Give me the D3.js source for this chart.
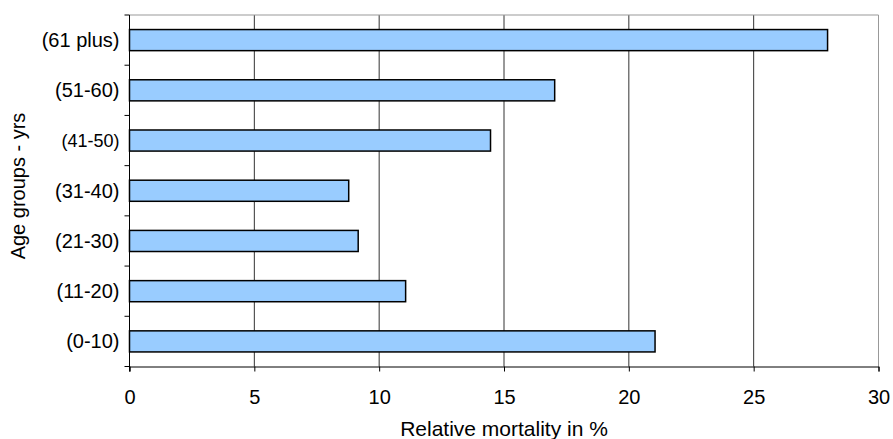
<!DOCTYPE html>
<html>
<head>
<meta charset="utf-8">
<script src="https://cdn.jsdelivr.net/npm/d3@7"></script>
<style>
  body { margin: 0; background: #fff; }
  text { font-family: "Liberation Sans", Arial, sans-serif; fill: #000; }
</style>
</head>
<body>
<svg id="chart" width="893" height="439"></svg>
<script>
// age groups, top to bottom
var groups = ["(61 plus)", "(51-60)", "(41-50)", "(31-40)", "(21-30)", "(11-20)", "(0-10)"]
var mortality = [27.96, 17.03, 14.46, 8.78, 9.16, 11.06, 21.05]
var xTicks = [0, 5, 10, 15, 20, 25, 30]

var data = groups.map(function(g, i){ return {group: g, value: mortality[i]} })

var svg = d3.select("#chart")
var plotL = 129.5, plotR = 878.5, plotT = 15, plotB = 366.5

var x = d3.scaleLinear().domain([0, 30]).range([plotL, plotR])
var y = d3.scaleBand().domain(groups).range([plotT, plotB]).paddingInner(0.58).paddingOuter(0.29)

// gridlines
svg.selectAll("line.grid")
  .data(xTicks.slice(1, -1))
  .enter().append("line")
  .attr("class", "grid")
  .attr("x1", function(d){ return x(d) }).attr("x2", function(d){ return x(d) })
  .attr("y1", plotT).attr("y2", plotB)
  .attr("stroke", "#333").attr("stroke-width", 1)

// frame top/right
svg.append("path")
  .attr("d", "M" + plotL + "," + plotT + "H" + plotR + "V" + plotB)
  .attr("fill", "none").attr("stroke", "#999").attr("stroke-width", 1)

// bars
svg.selectAll("rect.bar")
  .data(data)
  .enter().append("rect")
  .attr("class", "bar")
  .attr("x", x(0))
  .attr("y", function(d){ return y(d.group) })
  .attr("width", function(d){ return x(d.value) - x(0) })
  .attr("height", y.bandwidth())
  .attr("fill", "#99ccff")
  .attr("stroke", "#000").attr("stroke-width", 1.5)

// x axis
var xAxis = svg.append("g")
  .attr("transform", "translate(0," + plotB + ")")
  .call(d3.axisBottom(x).tickValues(xTicks).tickSize(5).tickPadding(18))
xAxis.select(".domain").attr("stroke", "#000")
xAxis.selectAll(".tick line").attr("stroke", "#000")
xAxis.selectAll("text").attr("font-size", 20).attr("fill", "#000")
  .attr("font-family", "Liberation Sans, Arial, sans-serif")

// y axis, ticks sit between categories
var yAxis = svg.append("g")
  .attr("transform", "translate(" + plotL + ",0)")
yAxis.append("line")
  .attr("y1", plotT).attr("y2", plotB + 5).attr("stroke", "#000")
var step = (plotB - plotT) / groups.length
yAxis.selectAll("line.yt")
  .data(d3.range(groups.length + 1))
  .enter().append("line")
  .attr("class", "yt")
  .attr("x1", -5).attr("x2", 0)
  .attr("y1", function(i){ return plotT + i * step }).attr("y2", function(i){ return plotT + i * step })
  .attr("stroke", "#000")
yAxis.selectAll("text")
  .data(groups)
  .enter().append("text")
  .attr("x", -10)
  .attr("y", function(d){ return y(d) + y.bandwidth() / 2 })
  .attr("dy", "0.35em")
  .attr("text-anchor", "end")
  .attr("font-size", function(d){ return d == "(41-50)" ? 18 : 20 })
  .text(function(d){ return d })

// axis titles
svg.append("text")
  .attr("x", 504).attr("y", 436)
  .attr("text-anchor", "middle").attr("font-size", 21)
  .text("Relative mortality in %")

svg.append("text")
  .attr("transform", "translate(25,186) rotate(-90)")
  .attr("text-anchor", "middle").attr("font-size", 20)
  .text("Age groups - yrs")
</script>
</body>
</html>
